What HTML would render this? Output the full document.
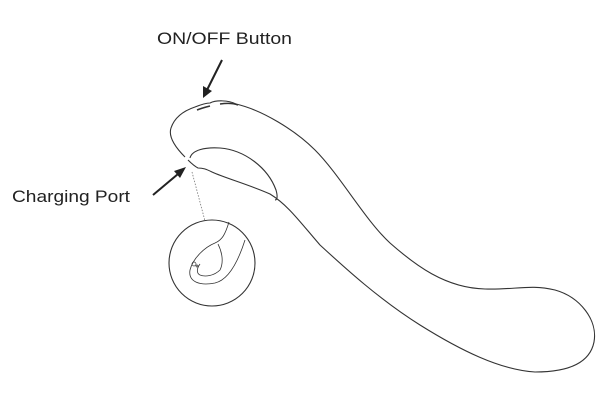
<!DOCTYPE html>
<html><head><meta charset="utf-8"><style>
html,body{margin:0;padding:0;background:#fff;}
svg{display:block}
text{font-family:"Liberation Sans",sans-serif;font-size:17px;fill:#222}
</style></head><body>
<svg width="600" height="400" viewBox="0 0 600 400" xmlns="http://www.w3.org/2000/svg">
<text x="157" y="44" textLength="135" lengthAdjust="spacingAndGlyphs">ON/OFF Button</text>
<text x="12" y="202" textLength="118" lengthAdjust="spacingAndGlyphs">Charging Port</text>
<g fill="none" stroke="#333" stroke-width="1.1">
<path d="M185,157 C176,148 168,137 171,128 C175,116 186,110 195,107 C200,105 205,103 210,103 C216,100 228,100 236,104 C262,110 295,130 315,150 C340,175 365,220 390,243 C415,265 445,288 485,289 C515,290 530,284 555,290 C580,297 598,320 594,342 C590,362 570,372 535,372 C500,370 460,350 420,325 C380,300 345,268 320,245 C300,222 288,205 270,194 C250,185 225,178 212,172 C206,169 203,168 198,168 C194,166 191,163 188,160"/>
<path d="M190,158 C192,150 205,147 220,148 C245,150 268,168 276,190 C278,197 277,200 275,200"/>
<path d="M197,110 C202,108 206,107 210,106" stroke-width="1.6"/>
<path d="M220,104 C227,103 233,103 238,105" stroke-width="1.6"/>
<line x1="222" y1="60" x2="207" y2="90" stroke="#222" stroke-width="2"/>
<line x1="153" y1="195" x2="178" y2="174" stroke="#222" stroke-width="2"/>
<line x1="192" y1="172" x2="205" y2="221" stroke="#777" stroke-width="0.8" stroke-dasharray="1.5,1.5"/>
<circle cx="212" cy="263" r="43"/>
<path d="M229,222 C225,235 222,240 215,243 C205,247 193,258 190,270 C188,282 200,286 215,283 C228,280 238,262 245,240" stroke-width="0.8"/>
<path d="M218,244 C222,252 224,262 220,270 C214,276 205,277 200,275 C196,273 197,268 200,264" stroke-width="0.8"/>
<circle cx="194" cy="264" r="2" stroke-width="0.7"/>
<circle cx="197" cy="266" r="1" stroke-width="0.7"/>
</g>
<polygon points="203,98 203,86 212,91" fill="#222"/>
<polygon points="186,167 180,178 174,171" fill="#222"/>
</svg>
</body></html>
